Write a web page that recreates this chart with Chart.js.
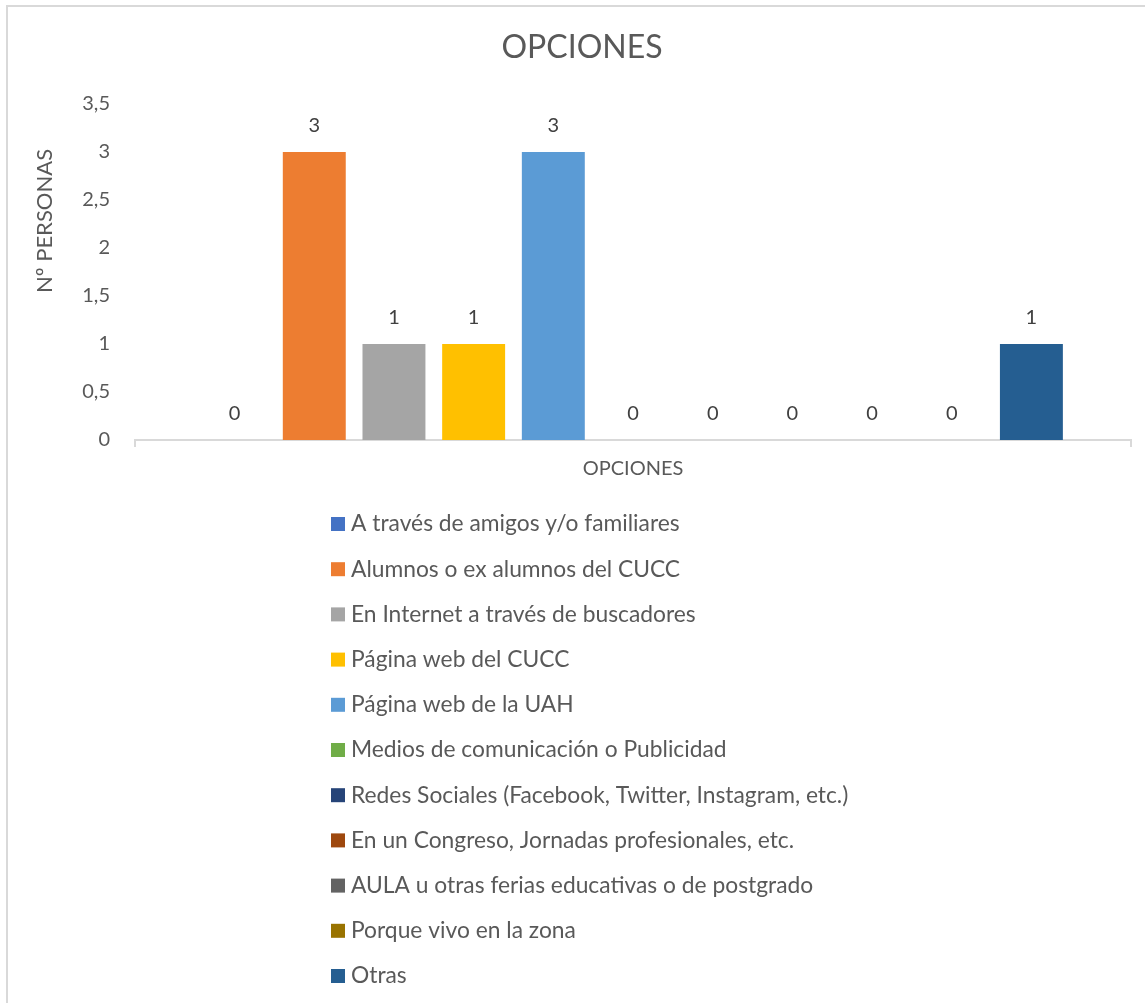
<!DOCTYPE html>
<html>
<head>
<meta charset="utf-8">
<script src="https://cdn.jsdelivr.net/npm/chart.js@4.4.0/dist/chart.umd.min.js"></script>
<style>
    html, body { margin: 0; padding: 0; background: #fff; overflow: hidden; }
    #frame { position: absolute; left: 6px; top: 5px; width: 1200px; height: 1100px; border: 2px solid #d9d9d9; box-sizing: border-box; }
    #wrap { position: absolute; left: 0; top: 0; width: 1145px; height: 1003px; }
</style>
</head>
<body>
<div id="frame"></div>
<div id="wrap"><canvas id="chart" width="1145" height="1003"></canvas></div>
<script>
// Chart data
const categories = ['OPCIONES'];
const seriesNames = [
    'A través de amigos y/o familiares',
    'Alumnos o ex alumnos del CUCC',
    'En Internet a través de buscadores',
    'Página web del CUCC',
    'Página web de la UAH',
    'Medios de comunicación o Publicidad',
    'Redes Sociales (Facebook, Twitter, Instagram, etc.)',
    'En un Congreso, Jornadas profesionales, etc.',
    'AULA u otras ferias educativas o de postgrado',
    'Porque vivo en la zona',
    'Otras'
];
const seriesValues = [0, 3, 1, 1, 3, 0, 0, 0, 0, 0, 1];
const seriesColors = [
    '#4472C4', '#ED7D31', '#A5A5A5', '#FFC000', '#5B9BD5', '#70AD47',
    '#264478', '#9E480E', '#636363', '#997300', '#255E91'
];
const yAxisTitle = 'Nº PERSONAS';
const chartTitle = 'OPCIONES';

const textColor = '#595959';
const fontFamily = 'Lato, "Open Sans", sans-serif';

// Value labels above each bar (including the zeros)
const valueLabelsPlugin = {
    id: 'valueLabels',
    afterDatasetsDraw(chart) {
        const { ctx } = chart;
        ctx.save();
        ctx.font = `20px ${fontFamily}`;
        ctx.textAlign = 'center';
        ctx.textBaseline = 'middle';
        ctx.fillStyle = '#404040';
        chart.data.datasets.forEach((ds, i) => {
            chart.getDatasetMeta(i).data.forEach((bar, j) => {
                ctx.fillText(String(ds.data[j]), bar.x, bar.y - 26);
            });
        });
        ctx.restore();
    }
};

// Chart title and rotated y axis title, placed like the original
const titlesPlugin = {
    id: 'titles',
    afterDraw(chart) {
        const { ctx, chartArea } = chart;
        ctx.save();
        ctx.fillStyle = textColor;
        ctx.textAlign = 'center';
        ctx.textBaseline = 'middle';
        ctx.font = `32px ${fontFamily}`;
        ctx.fillText(chartTitle, 582, 48);

        ctx.translate(45, chartArea.top + 117);
        ctx.rotate(-Math.PI / 2);
        ctx.font = `22px ${fontFamily}`;
        ctx.fillText(yAxisTitle, 0, 0);
        ctx.restore();
    }
};

// Vertical legend list under the chart
const legendLeft = 331;
const legendTop = 524;
const legendRowGap = 45.2;
const legendListPlugin = {
    id: 'legendList',
    afterDraw(chart) {
        const { ctx } = chart;
        ctx.save();
        ctx.font = `22.8px ${fontFamily}`;
        ctx.textAlign = 'left';
        ctx.textBaseline = 'middle';
        chart.data.datasets.forEach((ds, i) => {
            const y = legendTop + i * legendRowGap;
            ctx.fillStyle = ds.backgroundColor;
            ctx.fillRect(legendLeft, y - 7, 14, 14);
            ctx.fillStyle = textColor;
            ctx.fillText(ds.label, legendLeft + 20, y);
        });
        ctx.restore();
    }
};

const ctx = document.getElementById('chart').getContext('2d');
const chart = new Chart(ctx, {
    type: 'bar',
    data: {
        labels: categories,
        datasets: seriesNames.map((name, i) => ({
            label: name,
            data: [seriesValues[i]],
            backgroundColor: seriesColors[i],
            borderWidth: 0,
            categoryPercentage: 0.88,
            barPercentage: 0.79
        }))
    },
    options: {
        responsive: false,
        animation: false,
        layout: {
            padding: { left: 0, right: 14, top: 104, bottom: 523 }
        },
        plugins: {
            legend: { display: false },
            tooltip: { enabled: false },
            title: { display: false }
        },
        scales: {
            x: {
                grid: { display: true, drawOnChartArea: false, offset: true, tickLength: 7, color: '#d9d9d9', lineWidth: 2 },
                border: { display: true, color: '#d9d9d9', width: 2 },
                ticks: { color: textColor, font: { family: fontFamily, size: 20 }, padding: 10 },
                afterFit(scale) { scale.height = 40; }
            },
            y: {
                min: 0,
                max: 3.5,
                ticks: {
                    stepSize: 0.5,
                    color: textColor,
                    font: { family: fontFamily, size: 20 },
                    padding: 25,
                    callback: (v) => String(v).replace('.', ',')
                },
                grid: { display: false, drawTicks: false },
                border: { display: false },
                afterFit(scale) { scale.width = 135; }
            }
        }
    },
    plugins: [valueLabelsPlugin, titlesPlugin, legendListPlugin]
});
</script>
</body>
</html>
